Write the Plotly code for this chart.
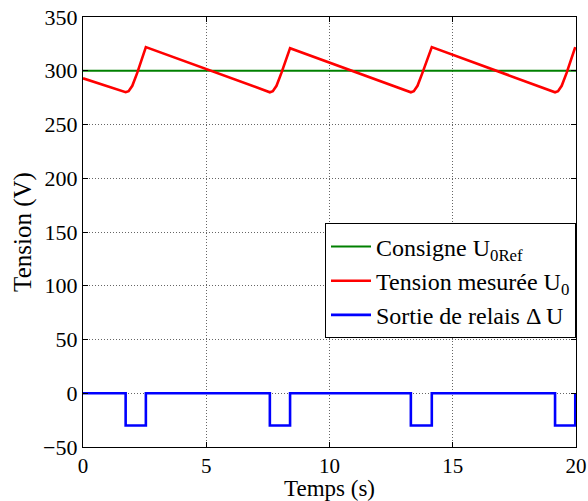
import plotly.graph_objects as go

# Reference (green)
t_ref = [0, 20]
u_ref = [300, 300]

t_meas = [0.0, 1.73, 1.85, 2.0, 2.2, 2.55, 7.58, 7.70, 7.85, 8.05, 8.40,
          13.30, 13.42, 13.57, 13.77, 14.15, 19.15, 19.27, 19.42, 19.62, 19.97]
u_meas = [293, 280, 281, 286, 298, 322, 280, 281, 286, 298, 321,
          280, 281, 286, 298, 322, 280, 281, 286, 298, 322]

# Relay output (blue)
t_relay = [0.0, 1.73, 1.73, 2.55, 2.55, 7.58, 7.58, 8.40, 8.40, 13.30, 13.30,
           14.15, 14.15, 19.15, 19.15, 19.97, 19.97]
u_relay = [0, 0, -30, -30, 0, 0, -30, -30, 0, 0, -30,
           -30, 0, 0, -30, -30, 0]

xticks = [0, 5, 10, 15, 20]
yticks = [-50, 0, 50, 100, 150, 200, 250, 300, 350]

fig = go.Figure()
fig.add_trace(go.Scatter(x=t_ref, y=u_ref, mode="lines",
                         line=dict(color="#008000", width=2.2),
                         name="Consigne U<sub>0Ref</sub>"))
fig.add_trace(go.Scatter(x=t_meas, y=u_meas, mode="lines",
                         line=dict(color="#ff0000", width=2.6),
                         name="Tension mesurée U<sub>0</sub>"))
fig.add_trace(go.Scatter(x=t_relay, y=u_relay, mode="lines",
                         line=dict(color="#0000ff", width=2.6),
                         name="Sortie de relais Δ U"))

font = "Liberation Serif"
axis_common = dict(showline=True, linecolor="black", linewidth=1.2, mirror="ticks",
                   ticks="inside", ticklen=5, tickcolor="black", automargin=False,
                   showgrid=True, gridcolor="#666666", griddash="1px,2px", gridwidth=1,
                   zeroline=False)

fig.update_layout(
    width=588, height=501,
    margin=dict(l=83, r=12, t=17, b=54),
    paper_bgcolor="white", plot_bgcolor="white",
    font=dict(family=font, color="black", size=22),
    xaxis=dict(range=[0, 20], tickvals=xticks,
               tickfont=dict(family=font, size=21, color="black"),
               title=dict(text="Temps (s)", font=dict(family=font, size=23), standoff=6),
               **axis_common),
    yaxis=dict(range=[-50, 350], tickvals=yticks,
               tickfont=dict(family=font, size=22, color="black"),
               title=dict(text="Tension (V)", font=dict(family=font, size=25), standoff=4),
               **axis_common),
    legend=dict(x=1.0, y=0.52, xanchor="right", yanchor="top",
                bgcolor="white", bordercolor="black", borderwidth=1,
                font=dict(family=font, size=24, color="black"),
                itemwidth=40, tracegroupgap=0),
    showlegend=True,
)

fig.write_html("out.html")
